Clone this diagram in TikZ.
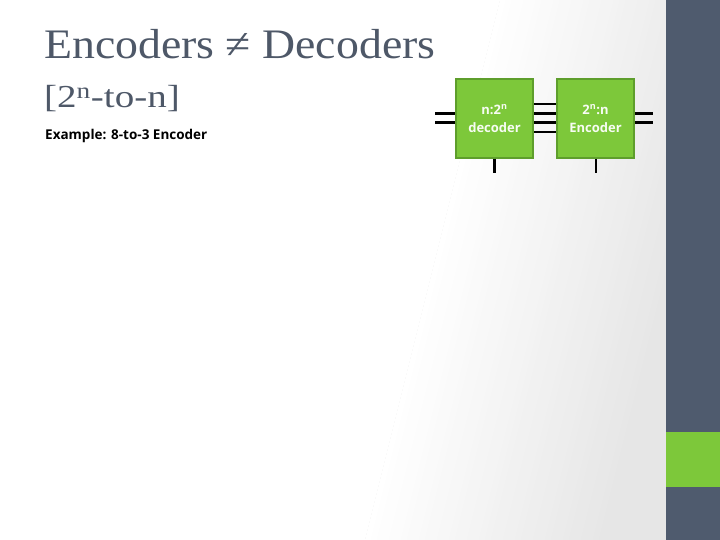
\documentclass[tikz,border=0pt]{standalone}
\usepackage{fontspec}
\setmainfont{Liberation Serif}
\newfontfamily\opensans{Open Sans}
\usetikzlibrary{positioning}
\definecolor{slate}{HTML}{4F5B6E}
\definecolor{leaf}{HTML}{7DC83A}
\definecolor{leafedge}{HTML}{5E9E2C}
\definecolor{titlegray}{HTML}{4E5868}
\definecolor{bgray}{HTML}{E6E6E6}
\begin{document}
\begin{tikzpicture}[x=1pt,y=-1pt,
  blockbox/.style={draw=leafedge,line width=1.5pt,fill=leaf,minimum width=77pt,minimum height=79pt,inner sep=0pt,
    text=white!94!leaf,font=\opensans\bfseries\fontsize{13}{18}\selectfont,align=center},
  wire/.style={line width=2.6pt,black}]
\useasboundingbox (0,0) rectangle (720,540);
% background: diagonal white-to-grey gradient drawn as thin strips
\fill[bgray] (0,0) rectangle (666,540);
\fill[white] (0,0) -- (500,0) -- (365,540) -- (0,540) -- cycle;
\foreach \i in {0,...,39}{
  \pgfmathsetmacro\pct{100*(\i+0.5)/40}
  \pgfmathsetmacro\xa{\i*240/40}
  \pgfmathsetmacro\xb{(\i+1)*240/40+0.6}
  \fill[bgray!\pct!white] (500+\xa,0) -- (500+\xb,0) -- (365+\xb,540) -- (365+\xa,540) -- cycle;
}
\fill[slate] (666,0) rectangle (720,540);
\fill[leaf] (666,432) rectangle (720,487);
% texts
\node[anchor=base west,inner sep=0pt,text=titlegray,font=\fontsize{42}{46}\selectfont] (title) at (44,58.5)
  {\scalebox{1.09}[1]{Encoders ≠ Decoders}};
\node[anchor=base west,inner sep=0pt,text=titlegray,font=\fontsize{32}{36}\selectfont] (sub) at (44,108)
  {\scalebox{1.22}[1]{[2\textsuperscript{n}-to-n]}};
\node[anchor=base west,inner sep=0pt,font=\opensans\bfseries\fontsize{13.5}{16}\selectfont] (ex) at (45,140)
  {Example: 8-to-3 Encoder};
% blocks
\node[blockbox] (dec) at (494.5,118.5) {n:2\textsuperscript{n}\\decoder};
\node[blockbox] (enc) at (595.5,118.5) {2\textsuperscript{n}:n\\Encoder};
% wires
\coordinate (inL) at (435,0);
\coordinate (outR) at (653,0);
\foreach \yy in {113.5,122.5}{
  \draw[wire] (inL |- 0,\yy) -- (dec.west |- 0,\yy);
  \draw[wire] (enc.east |- 0,\yy) -- (outR |- 0,\yy);
}
\foreach \yy in {104,113.5,122.5,132}{
  \draw[wire] (dec.east |- 0,\yy) -- (enc.west |- 0,\yy);
}
\coordinate (decb) at (494.5,173);
\coordinate (encb) at (596,173);
\draw[wire] (dec.south -| decb) -- (decb);
\draw[wire] (enc.south -| encb) -- (encb);
\end{tikzpicture}
\end{document}
